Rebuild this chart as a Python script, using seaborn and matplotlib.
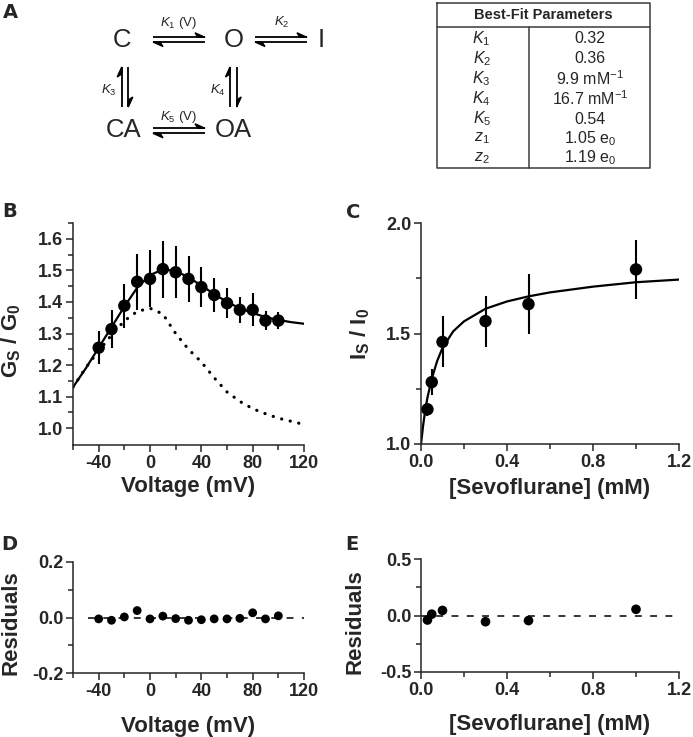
import matplotlib
matplotlib.use("Agg")
import matplotlib.pyplot as plt
import seaborn as sns
import numpy as np

# --- data ---

# panel B: G_S / G_0 vs voltage
volt = [-40, -30, -20, -10, 0, 10, 20, 30, 40, 50, 60, 70, 80, 90, 100]
gs_mean = [1.255, 1.314, 1.388, 1.464, 1.473, 1.504, 1.494, 1.473, 1.447, 1.422,
           1.396, 1.375, 1.375, 1.341, 1.341]
gs_err = [0.053, 0.06, 0.07, 0.088, 0.09, 0.09, 0.083, 0.072, 0.063, 0.055,
          0.047, 0.042, 0.052, 0.031, 0.028]
fit_v = [-60, -50, -40, -30, -20, -10, 0, 10, 20, 30, 40, 50, 60, 70, 80, 90, 100, 110, 120]
fit_gs = [1.13, 1.19, 1.255, 1.32, 1.385, 1.445, 1.485, 1.503, 1.498, 1.478, 1.452,
          1.425, 1.40, 1.38, 1.365, 1.352, 1.343, 1.336, 1.331]
open_gs = [1.13, 1.192, 1.245, 1.295, 1.34, 1.37, 1.38, 1.362, 1.30, 1.25, 1.21,
           1.16, 1.115, 1.085, 1.062, 1.046, 1.032, 1.022, 1.012]

# panel C: I_S / I_0 vs sevoflurane
sevo = [0.03, 0.05, 0.1, 0.3, 0.5, 1.0]
is_mean = [1.157, 1.28, 1.462, 1.556, 1.633, 1.79]
is_err = [0.03, 0.06, 0.115, 0.115, 0.135, 0.135]
fit_sevo = [0.0, 0.01, 0.02, 0.03, 0.05, 0.075, 0.1, 0.15, 0.2, 0.3, 0.4, 0.5, 0.6, 0.8, 1.0, 1.2]
fit_is = [1.0, 1.085, 1.155, 1.21, 1.295, 1.375, 1.435, 1.51, 1.555, 1.612, 1.645,
          1.668, 1.686, 1.712, 1.732, 1.744]

# panels D, E: residuals
resid_v = [-0.005, -0.01, 0.002, 0.025, -0.005, 0.005, -0.004, -0.01, -0.008,
           -0.005, -0.005, -0.003, 0.017, -0.005, 0.006]
resid_sevo = [-0.04, 0.012, 0.045, -0.055, -0.045, 0.055]

# panel A table
param_names = [r"$K_1$", r"$K_2$", r"$K_3$", r"$K_4$", r"$K_5$", r"$z_1$", r"$z_2$"]
param_values = ["0.32", "0.36", r"9.9 mM$^{-1}$", r"16.7 mM$^{-1}$", "0.54",
                r"1.05 e$_0$", r"1.19 e$_0$"]

sns.set_style("ticks")
plt.rcParams["font.family"] = ["Liberation Sans", "DejaVu Sans"]
plt.rcParams["mathtext.fontset"] = "custom"
plt.rcParams["mathtext.rm"] = "Liberation Sans"
plt.rcParams["mathtext.it"] = "Liberation Sans:italic"
plt.rcParams["mathtext.bf"] = "Liberation Sans:bold"
plt.rcParams["axes.linewidth"] = 1.1

fig = plt.figure(figsize=(6.93, 7.37), dpi=100)

W, H = 693, 737


def box(l, t, r, b):
    return [l / W, 1 - b / H, (r - l) / W, (b - t) / H]


axB = fig.add_axes(box(73, 223, 304, 445))
axC = fig.add_axes(box(421, 223, 679, 444))
axD = fig.add_axes(box(73, 562, 304, 673))
axE = fig.add_axes(box(421, 559, 679, 672))

tick_font = dict(fontsize=13, fontweight="bold")
label_font = dict(fontsize=16, fontweight="bold")


def style(ax, xmaj, xmin, ymaj, ymin):
    ax.set_xticks(xmaj)
    ax.set_xticks(xmin, minor=True)
    ax.set_yticks(ymaj)
    ax.set_yticks(ymin, minor=True)
    ax.tick_params(which="major", length=5, width=1.1, pad=2)
    ax.tick_params(which="minor", length=3.5, width=1.1)
    sns.despine(ax=ax)


# ---- B ----
sns.lineplot(x=fit_v, y=fit_gs, ax=axB, color="black", lw=1.6)
sns.lineplot(x=fit_v, y=open_gs, ax=axB, color="black", lw=2.3,
             linestyle=(0, (0.05, 2.7)), dash_capstyle="round")
axB.errorbar(volt, gs_mean, yerr=gs_err, fmt="none", ecolor="black", elinewidth=1.5, capsize=0)
sns.scatterplot(x=volt, y=gs_mean, ax=axB, color="black", s=80, edgecolor="none", zorder=5)
axB.set_xlim(-60, 120)
axB.set_ylim(0.947, 1.65)
style(axB, [-40, 0, 40, 80, 120], np.arange(-60, 121, 20),
      [1.0, 1.1, 1.2, 1.3, 1.4, 1.5, 1.6], np.arange(1.0, 1.66, 0.05))
axB.set_xticklabels(["-40", "0", "40", "80", "120"], **tick_font)
axB.set_yticklabels(["1.0", "1.1", "1.2", "1.3", "1.4", "1.5", "1.6"], **tick_font)
axB.set_xlabel("Voltage (mV)", labelpad=3, **label_font)
axB.set_ylabel(r"G$_\mathbf{S}$ / G$_\mathbf{0}$", **label_font)
axB.yaxis.set_label_coords(-0.215, 0.47)

# ---- C ----
sns.lineplot(x=fit_sevo, y=fit_is, ax=axC, color="black", lw=1.6)
axC.errorbar(sevo, is_mean, yerr=is_err, fmt="none", ecolor="black", elinewidth=1.5, capsize=0)
sns.scatterplot(x=sevo, y=is_mean, ax=axC, color="black", s=80, edgecolor="none", zorder=5)
axC.set_xlim(0, 1.2)
axC.set_ylim(1.0, 2.0)
style(axC, [0.0, 0.4, 0.8, 1.2], [0.2, 0.6, 1.0], [1.0, 1.5, 2.0], [1.25, 1.75])
axC.set_xticklabels(["0.0", "0.4", "0.8", "1.2"], **tick_font)
axC.set_yticklabels(["1.0", "1.5", "2.0"], **tick_font)
axC.set_xlabel("[Sevoflurane] (mM)", labelpad=5, **label_font)
axC.set_ylabel(r"I$_\mathbf{S}$ / I$_\mathbf{0}$", **label_font)
axC.yaxis.set_label_coords(-0.19, 0.5)

# ---- D ----
axD.plot([-48, 120], [0, 0], color="black", lw=1.1, linestyle=(0, (4.5, 5.5)))
sns.scatterplot(x=volt, y=resid_v, ax=axD, color="black", s=40, edgecolor="none", zorder=5)
axD.set_xlim(-60, 120)
axD.set_ylim(-0.2, 0.2)
style(axD, [-40, 0, 40, 80, 120], np.arange(-60, 121, 20), [-0.2, 0.0, 0.2], [-0.1, 0.1])
axD.set_xticklabels(["-40", "0", "40", "80", "120"], **tick_font)
axD.set_yticklabels(["-0.2", "0.0", "0.2"], **tick_font)
axD.set_xlabel("Voltage (mV)", labelpad=12, **label_font)
axD.set_ylabel("Residuals", **label_font)
axD.yaxis.set_label_coords(-0.225, 0.45)

# ---- E ----
axE.plot([0, 1.17], [0, 0], color="black", lw=1.1, linestyle=(0, (4.5, 5.5)))
sns.scatterplot(x=sevo, y=resid_sevo, ax=axE, color="black", s=48, edgecolor="none", zorder=5)
axE.set_xlim(0, 1.2)
axE.set_ylim(-0.5, 0.5)
style(axE, [0.0, 0.4, 0.8, 1.2], [0.2, 0.6, 1.0], [-0.5, 0.0, 0.5], [-0.25, 0.25])
axE.set_xticklabels(["0.0", "0.4", "0.8", "1.2"], **tick_font)
axE.set_yticklabels(["-0.5", "0.0", "0.5"], **tick_font)
axE.set_xlabel("[Sevoflurane] (mM)", labelpad=11, **label_font)
axE.set_ylabel("Residuals", **label_font)
axE.yaxis.set_label_coords(-0.215, 0.45)

# ---- overlay in pixel coordinates: panel letters, scheme, table ----
ov = fig.add_axes([0, 0, 1, 1], zorder=-1)
ov.set_xlim(0, W)
ov.set_ylim(H, 0)
ov.axis("off")

for letter, (px, py) in zip("ABCDE", [(10, 12), (10, 211), (353, 212), (9, 545), (352, 544)]):
    ov.text(px, py, letter, fontsize=14, fontweight="bold", ha="center", va="center",
            family=["DejaVu Sans"])


def harpoon(x0, y0, x1, y1, side):
    # line with a single barb at (x1, y1) on the given side
    ov.plot([x0, x1], [y0, y1], color="black", lw=1.3, solid_capstyle="butt")
    d = np.array([x1 - x0, y1 - y0], dtype=float)
    d /= np.hypot(*d)
    n = np.array([d[1], -d[0]]) * side
    tip = np.array([x1, y1])
    back = tip - d * 10 + n * 4.5
    mid = tip - d * 7
    ov.fill([tip[0], back[0], mid[0]], [tip[1], back[1], mid[1]],
            color="black", lw=1.0)


def eq_h(xa, xb, y_top, y_bot):
    harpoon(xa, y_top, xb, y_top, 1)
    harpoon(xb, y_bot, xa, y_bot, 1)


def eq_v(x_left, x_right, ya, yb):
    harpoon(x_left, yb, x_left, ya, 1)
    harpoon(x_right, ya, x_right, yb, 1)


state_font = dict(fontsize=18.5, ha="center", va="center")
ov.text(121.5, 39.5, "C", **state_font)
ov.text(233.5, 39.5, "O", **state_font)
ov.text(321.5, 39.5, "I", **state_font)
ov.text(124, 130, "CA", **state_font)
ov.text(233.5, 130, "OA", **state_font)

eq_h(153, 205, 37.3, 42)
eq_h(255, 307, 37.3, 42)
eq_h(153, 205, 128.3, 133.3)
eq_v(121.7, 128.3, 67, 107)
eq_v(230, 236.7, 67, 107)

rate_font = dict(fontsize=9.5, ha="center", va="center")
ov.text(178, 23, r"$K_1$ (V)", **rate_font)
ov.text(282, 22, r"$K_2$", **rate_font)
ov.text(109, 90, r"$K_3$", **rate_font)
ov.text(218, 90, r"$K_4$", **rate_font)
ov.text(178, 117, r"$K_5$ (V)", **rate_font)

# table
tcol = "#3a3a3a"
ov.plot([436.7, 650, 650, 436.7, 436.7], [2.7, 2.7, 168.3, 168.3, 2.7], color=tcol, lw=1.1)
ov.plot([436.7, 650], [26.7, 26.7], color=tcol, lw=1.1)
ov.plot([529.3, 529.3], [26.7, 168.3], color=tcol, lw=1.1)
ov.text(543.3, 15, "Best-Fit Parameters", fontsize=10.5, fontweight="bold", ha="center", va="center")
row_y = [38.3, 58.3, 79, 99, 119, 138.3, 157.7]
for yy, name, val in zip(row_y, param_names, param_values):
    ov.text(481.7, yy, name, fontsize=11.5, ha="center", va="center")
    ov.text(590, yy, val, fontsize=11.5, ha="center", va="center")

fig.savefig("out.png", dpi=100)
